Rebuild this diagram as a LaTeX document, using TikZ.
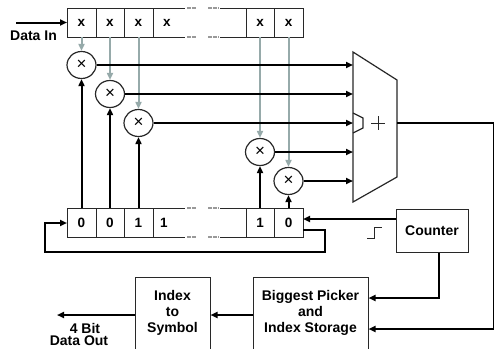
\documentclass[tikz,border=0pt]{standalone}
\usepackage{fontspec}
\setmainfont{Liberation Sans}
\usetikzlibrary{arrows.meta,shapes.geometric,calc}
\definecolor{tapgray}{RGB}{150,170,170}
\definecolor{boxline}{RGB}{40,40,40}

\begin{document}
\begin{tikzpicture}[x=1pt,y=-1pt,
  wire/.style={line width=2pt,black},
  arr/.style={wire,-{Triangle[length=7pt,width=6pt]}},
  tap/.style={line width=2pt,tapgray,-{Triangle[length=7pt,width=6pt]}},
  reg/.style={line width=1pt,boxline},
  regdash/.style={line width=1.2pt,gray!80,dash pattern=on 3.5pt off 1.5pt},
  cell/.style={font=\fontsize{13.5}{13.5}\selectfont\bfseries,inner sep=0pt},
  mult/.style={ellipse,draw=boxline,line width=1.2pt,minimum width=29pt,
    minimum height=27pt,inner sep=0pt,fill=white,font=\fontsize{17}{17}\selectfont},
  block/.style={draw=boxline,line width=1pt,align=center,
    font=\fontsize{14}{16}\selectfont\bfseries,inner sep=0pt},
  lbl/.style={align=center,font=\fontsize{14}{15}\selectfont\bfseries,inner sep=0pt},
]
\useasboundingbox (0,0) rectangle (494,348);

% shift registers: coefficient register on top, reference pattern below
\foreach \yt/\yb in {8/37, 208/237} {
  \draw[reg] (185,\yt) -- (67,\yt) -- (67,\yb) -- (185,\yb);
  \draw[reg] (220,\yt) -- (303,\yt) -- (303,\yb) -- (220,\yb);
  \foreach \xx in {96,124,153,246,274} \draw[reg] (\xx,\yt) -- (\xx,\yb);
  \foreach \yy in {\yt,\yb} {
    \draw[regdash] (187,\yy) -- (197,\yy);
    \draw[regdash] (208,\yy) -- (219,\yy);
  }
}

\node[cell] (t1) at (81.5,22.5) {x};
\node[cell] (t2) at (110,22.5) {x};
\node[cell] (t3) at (138.5,22.5) {x};
\node[cell] (t4) at (167,22.5) {x};
\node[cell] (t5) at (260,22.5) {x};
\node[cell] (t6) at (288.5,22.5) {x};

\node[cell] (b1) at (81.5,222.5) {0};
\node[cell] (b2) at (110,222.5) {0};
\node[cell] (b3) at (138.5,222.5) {1};
\node[cell] (b4) at (164,222.5) {1};
\node[cell] (b5) at (260,222.5) {1};
\node[cell] (b6) at (288.5,222.5) {0};

\coordinate (tregB) at (0,37);
\coordinate (bregT) at (0,208);
\coordinate (tregIn) at (67,22.5);
\coordinate (din) at (16,22.5);
\coordinate (bregR) at (303,0);
\coordinate (bregOut) at (303,230);
\coordinate (bregIn) at (67,223);

% multipliers
\node[mult] (m1) at (81.5,65) {×};
\node[mult] (m2) at (110,94) {×};
\node[mult] (m3) at (138.5,123) {×};
\node[mult] (m4) at (260,152) {×};
\node[mult] (m5) at (288.5,181) {×};

% adder
\draw[line width=1.2pt,boxline] (353,52) -- (397,80) -- (397,177) -- (353,202) -- cycle;
\draw[line width=1.2pt,boxline] (353,113) -- (363,118) -- (363,128) -- (353,133);
\draw[line width=1pt,boxline] (371,123) -- (385,123) (378,116) -- (378,130);
\coordinate (addL) at (353,0);
\coordinate (sum) at (397,123);
\coordinate (rt) at (493.5,123);

% data taps
\draw[tap] (t1 |- tregB) -- (m1.north);
\draw[tap] (t2 |- tregB) -- (m2.north);
\draw[tap] (t3 |- tregB) -- (m3.north);
\draw[tap] (t5 |- tregB) -- (m4.north);
\draw[tap] (t6 |- tregB) -- (m5.north);

% pattern bits into multipliers
\draw[arr] (b1 |- bregT) -- (m1.south);
\draw[arr] (b2 |- bregT) -- (m2.south);
\draw[arr] (b3 |- bregT) -- (m3.south);
\draw[arr] (b5 |- bregT) -- (m4.south);
\draw[arr] (b6 |- bregT) -- (m5.south);

% products into adder
\foreach \m in {m1,m2,m3,m4,m5} \draw[arr] (\m.east) -- (\m.east -| addL);

% input
\draw[arr] (din) -- (tregIn);
\node[lbl] (datain) at (33.5,36) {Data In};

% feedback of the pattern register
\draw[arr] (bregOut) -- (325,230) -- (325,252) -- (45,252) -- (45,223) -- (bregIn);

% counter
\node[block,minimum width=72pt,minimum height=43pt] (counter) at (432,230.5) {Counter};
\coordinate (cnt) at ([yshift=11.5pt]counter.west);
\draw[arr] (cnt) -- (cnt -| bregR);
\draw[line width=1pt,boxline] (367,238) -- (374,238) -- (374,227) -- (382,227);

% output stages
\node[block,minimum width=115pt,minimum height=72pt] (picker) at (310.5,313)
  {Biggest Picker\\and\\Index Storage};
\node[block,minimum width=75pt,minimum height=72pt] (idx) at (172.5,313)
  {Index\\to\\Symbol};
\coordinate (cb) at ([xshift=7pt]counter.south);
\draw[arr] (cb) |- ([yshift=15pt]picker.east);
\draw[arr] (sum) -- (rt) |- ([yshift=-16pt]picker.east);
\draw[arr] ([yshift=-2pt]picker.west) -- ([yshift=-2pt]idx.east);
\coordinate (dout) at (57,315);
\draw[arr] ([yshift=-2pt]idx.west) -- (dout);
\node[lbl] (bits) at (85,328) {4 Bit};
\node[lbl] (dataout) at (79,341) {Data Out};
\end{tikzpicture}
\end{document}
